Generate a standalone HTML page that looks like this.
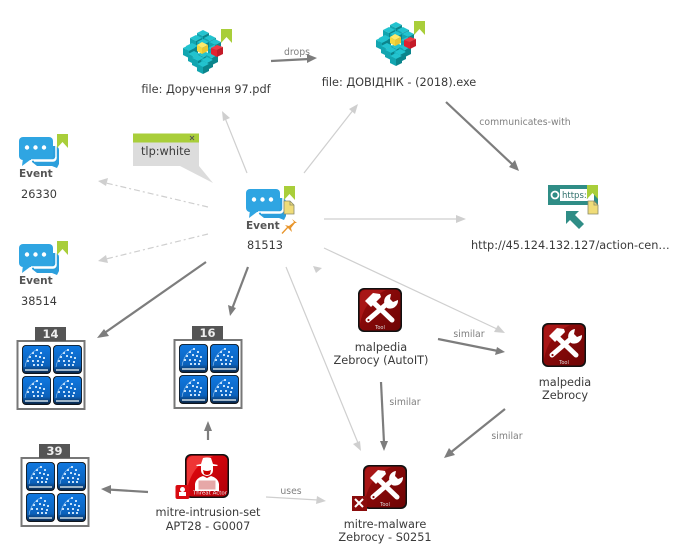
<!DOCTYPE html>
<html>
<head>
<meta charset="utf-8">
<style>
html,body{margin:0;padding:0;background:#fff;width:680px;height:550px;overflow:hidden}
svg{display:block}
text{font-family:"DejaVu Sans","Liberation Sans",sans-serif;font-size:11.300px;fill:#3a3a3a}
.c{text-anchor:middle}
.e{font-size:9.300px;fill:#808080;text-anchor:middle}
.ev{font-size:10.500px;font-weight:bold;fill:#555}
.d{stroke:#7d7d7d;stroke-width:2.200;fill:none}
.l{stroke:#cfcfcf;stroke-width:1.200;fill:none}
.ld{stroke:#cfcfcf;stroke-width:1.200;fill:none;stroke-dasharray:6 3 2 3}
</style>
</head>
<body>
<svg width="680" height="550" viewBox="0 0 680 550" xmlns="http://www.w3.org/2000/svg">
<defs>
<linearGradient id="red" x1="0" y1="0" x2="1" y2="1"><stop offset="0" stop-color="#e8080f"/><stop offset="1" stop-color="#b00008"/></linearGradient>
<linearGradient id="dred" x1="0" y1="0" x2="1" y2="1"><stop offset="0" stop-color="#9a0c0c"/><stop offset="1" stop-color="#6e0505"/></linearGradient>
<linearGradient id="blue" x1="0" y1="0" x2="0" y2="1"><stop offset="0" stop-color="#1078e0"/><stop offset=".72" stop-color="#0b62bc"/><stop offset="1" stop-color="#0a2444"/></linearGradient>

<g id="bm"><polygon points="0,0 11,0 11,14 5.500,8 0,14" fill="#a9ce3a"/></g>

<g id="cb"><polygon points="0,-3 6,0 0,3 -6,0" fill="#22c3cf"/><polygon points="-6,0 0,3 0,10 -6,7" fill="#12a5b0"/><polygon points="6,0 0,3 0,10 6,7" fill="#0b858c"/></g>
<g id="cubes">
<g transform="translate(0,-2)">
<use href="#cb" x="203" y="35"/><use href="#cb" x="196" y="40"/><use href="#cb" x="210" y="40"/>
<use href="#cb" x="215" y="44"/><use href="#cb" x="192" y="48"/><use href="#cb" x="203" y="44"/>
<use href="#cb" x="189" y="50"/><use href="#cb" x="214" y="50"/><use href="#cb" x="194" y="56"/>
<use href="#cb" x="204" y="56"/><use href="#cb" x="212" y="57"/><use href="#cb" x="198" y="60"/>
<use href="#cb" x="207" y="62"/><use href="#cb" x="203" y="66"/>
<polygon points="202,44 208,47 202,50 197,47" fill="#ffe96a"/><polygon points="197,47 202,50 202,56 197,53" fill="#f5d83e"/><polygon points="208,47 202,50 202,56 208,53" fill="#e8c733"/>
<polygon points="217,47 223,49 217,52 211,50" fill="#ef3a44"/><polygon points="211,50 217,52 217,59 211,56" fill="#e2222f"/><polygon points="223,49 217,52 217,59 223,56" fill="#c41a28"/>
</g>
<use href="#bm" x="221" y="29"/>
</g>

<g id="event">
<path d="M31 146h24a4 4 0 0 1 4 4v14l-2 4-5-2H37l-5-4z" fill="#2c9fdc"/>
<path d="M34 161h19a3 3 0 0 0 3-3v-12" fill="none" stroke="#fff" stroke-width="1.500"/>
<rect x="19" y="137" width="34" height="23" rx="4" fill="#2fa5e2"/>
<polygon points="23,158 30,160 22,166" fill="#2fa5e2"/>
<path d="M31 160h22a4 4 0 0 0 3-3" fill="none" stroke="#fff" stroke-width="1.400"/>
<circle cx="27" cy="147.500" r="2.200" fill="#fff"/><circle cx="35.500" cy="147.500" r="2.200" fill="#fff"/><circle cx="44" cy="147.500" r="2.200" fill="#fff"/>
<use href="#bm" x="57" y="134"/>
</g>

<g id="tool">
<rect x="0" y="0" width="44" height="44" rx="6" fill="#111"/>
<rect x="1.500" y="1.500" width="41" height="41" rx="5" fill="url(#dred)"/>
<path d="M2 36Q6 12 28 2H8a6 6 0 0 0-6 6z" fill="#a81616"/>
<g stroke="#fff" stroke-linecap="round" fill="none">
<path d="M14 13L34 32" stroke-width="5"/>
<path d="M31 14L10 32" stroke-width="5"/>
</g>
<path d="M7 13l8-8 7 1 1 3-10 10z" fill="#fff"/>
<path d="M27 17a7.500 7.500 0 0 1 6-11l-1 5 3 3 5-2a8 8 0 0 1-11 8z" fill="#fff"/>
<circle cx="10.500" cy="32" r="1.100" fill="#8a0c0c"/>
<text x="22" y="41" class="c" style="font-size:5px;fill:#ddd">Tool</text>
</g>

<g id="chip">
<rect x="0" y="0" width="29" height="29" rx="4" fill="#111"/>
<rect x=".8" y=".8" width="27.400" height="27.400" rx="3.500" fill="url(#blue)"/>
<g fill="#c6e2fb">
<rect x="14" y="4" width="2" height="2"/><rect x="10" y="7" width="2" height="2"/><rect x="18" y="7" width="2" height="2"/><rect x="7" y="11" width="2" height="2"/><rect x="13" y="10" width="2" height="2"/><rect x="17" y="11" width="2" height="2"/><rect x="21" y="12" width="2" height="2"/><rect x="5" y="15" width="2" height="2"/><rect x="10" y="15" width="2" height="2"/><rect x="15" y="15" width="2" height="2"/><rect x="20" y="16" width="2" height="2"/><rect x="11" y="19" width="2" height="2"/><rect x="15" y="19" width="2" height="2"/><rect x="19" y="19" width="2" height="2"/>
</g>
<path d="M3 22Q5 10 14 5" stroke="#9cc8f2" stroke-width=".6" fill="none"/>
<rect x="3" y="24" width="23" height="2" fill="#9db4c8"/>
</g>

<g id="cluster">
<rect x="1" y="1" width="67" height="68" fill="#fff" stroke="#777" stroke-width="2"/>
<use href="#chip" x="5.500" y="5"/><use href="#chip" x="36.500" y="5"/>
<use href="#chip" x="5.500" y="36"/><use href="#chip" x="36.500" y="36"/>
</g>

<g id="note"><path d="M0 0h6l4 4v9H0z" fill="#f0dc78" stroke="#8a8a6a" stroke-width=".8"/><path d="M6 0v4h4" fill="none" stroke="#8a8a6a" stroke-width=".8"/></g>
</defs>

<!-- connectors -->
<g>
<path class="l" d="M247 173L225 118"/><polygon points="222,111 230,118 223,121" fill="#cfcfcf"/>
<path class="l" d="M304 173L354 109"/><polygon points="358,104 355,114 349,109" fill="#cfcfcf"/>
<path class="l" d="M324 219L457 219"/><polygon points="466,219 456,223 456,215" fill="#cfcfcf"/>
<path class="l" d="M324 248L497 329"/><polygon points="505,333 494,332 498,325" fill="#cfcfcf"/>
<path class="l" d="M286 267L358 443"/><polygon points="361,451 353,444 360,441" fill="#cfcfcf"/>
<polygon points="313,266 322,268 316,273" fill="#cfcfcf"/>
<path class="ld" d="M208 207L106 183"/><polygon points="98,181 108,178 106,186" fill="#cfcfcf"/>
<path class="ld" d="M208 234L106 259"/><polygon points="98,261 106,255 108,263" fill="#cfcfcf"/>
<path class="l" d="M266 497L318 500"/><polygon points="326,501 316,504 317,496" fill="#cfcfcf"/>

<path class="d" d="M206 262L103 334"/><polygon points="97,338 104,329 109,336" fill="#7d7d7d"/>
<path class="d" d="M248 267L232 309"/><polygon points="230,316 228,305 236,308" fill="#7d7d7d"/>
<path class="d" d="M208 440L208 428"/><polygon points="208,421 212,431 204,431" fill="#7d7d7d"/>
<path class="d" d="M148 492L108 489.500"/><polygon points="101,489 111,485 111,494" fill="#7d7d7d"/>
<path class="d" d="M271 61L309 59"/><polygon points="317,58 307,63 307,54" fill="#7d7d7d"/>
<path class="d" d="M446 102L513 165"/><polygon points="519,171 509,167 515,160" fill="#7d7d7d"/>
<path class="d" d="M438 339L498 351"/><polygon points="505,352 495,355 497,347" fill="#7d7d7d"/>
<path class="d" d="M381 382L384 443"/><polygon points="384,451 380,441 388,441" fill="#7d7d7d"/>
<path class="d" d="M505 409L450 453"/><polygon points="444,458 449,448 455,455" fill="#7d7d7d"/>
</g>

<text class="e" x="297" y="55">drops</text>
<text class="e" x="525" y="125">communicates-with</text>
<text class="e" x="469" y="337">similar</text>
<text class="e" x="405" y="405">similar</text>
<text class="e" x="507" y="439">similar</text>
<text class="e" x="291" y="494">uses</text>

<!-- tlp tag -->
<polygon points="133,142 199,142 199,166 213,183 180,166 133,166" fill="#dcdcdc"/>
<rect x="133" y="133.500" width="66" height="9" fill="#a9ce3a"/>
<path d="M190 136l4 4m0-4l-4 4" stroke="#555" stroke-width=".9"/>
<text x="141" y="155">tlp:white</text>

<!-- files -->
<use href="#cubes"/>
<text class="c" x="206" y="93">file: Доручення 97.pdf</text>
<use href="#cubes" x="193" y="-8"/>
<text class="c" x="399" y="86">file: ДОВІДНІК - (2018).exe</text>

<!-- events -->
<use href="#event"/>
<text class="ev" x="19" y="177">Event</text>
<text class="c" x="39" y="198">26330</text>
<use href="#event" y="107"/>
<text class="ev" x="19" y="284">Event</text>
<text class="c" x="39" y="305">38514</text>
<use href="#event" x="227" y="52"/>
<text class="ev" x="246" y="229">Event</text>
<text class="c" x="265" y="249">81513</text>
<use href="#note" x="284" y="201"/>
<path d="M282 233.500L288 227" stroke="#e8952c" stroke-width="1.300"/>
<polygon points="285,225 289,226 294,222 292,219 297,223 295,223 291,228 292,232" fill="#e8952c"/>

<!-- url -->
<rect x="548" y="185" width="50" height="20" fill="#2f8d86"/>
<circle cx="555" cy="195" r="3.500" fill="none" stroke="#fff" stroke-width="1.800"/>
<rect x="560" y="189" width="34" height="12" fill="#fff"/>
<text x="562" y="198" style="font-size:8.500px;fill:#2f6f6a">https:/</text>
<use href="#bm" x="587" y="185"/>
<use href="#note" x="588" y="201"/>
<polygon points="566,211 579,211 575,215 584,224 579,229 570,220 566,224" fill="#2f8d86"/>
<text x="471" y="249">http://45.124.132.127/action-cen…</text>

<!-- clusters -->
<use href="#cluster" x="16.500" y="340"/>
<rect x="35" y="327" width="31" height="14" fill="#555"/>
<text class="c" x="50.500" y="338" style="font-weight:bold;fill:#eee;font-size:11.500px">14</text>
<use href="#cluster" x="173.500" y="339"/>
<rect x="192" y="326" width="31" height="14" fill="#555"/>
<text class="c" x="207.500" y="337" style="font-weight:bold;fill:#eee;font-size:11.500px">16</text>
<use href="#cluster" x="20.500" y="457"/>
<rect x="39" y="444" width="31" height="14" fill="#555"/>
<text class="c" x="54.500" y="455" style="font-weight:bold;fill:#eee;font-size:11.500px">39</text>

<!-- tools -->
<use href="#tool" x="358" y="288"/>
<text class="c" x="381" y="351">malpedia</text>
<text class="c" x="381" y="364">Zebrocy (AutoIT)</text>
<use href="#tool" x="542" y="323"/>
<text class="c" x="565" y="386">malpedia</text>
<text class="c" x="565" y="399">Zebrocy</text>
<use href="#tool" x="363" y="465"/>
<rect x="352" y="496" width="15" height="15" fill="#8a0c0c"/>
<path d="M355 499l8 8M363 499l-8 8" stroke="#fff" stroke-width="2"/>
<text class="c" x="385" y="528">mitre-malware</text>
<text class="c" x="385" y="541">Zebrocy - S0251</text>

<!-- threat actor -->
<rect x="185" y="454" width="44" height="44" rx="6" fill="#111"/>
<rect x="186.500" y="455.500" width="41" height="41" rx="5" fill="url(#red)"/>
<path d="M187 490Q191 466 213 456H193a6 6 0 0 0-6 6z" fill="#ee3535"/>
<!-- hat -->
<path d="M203 458q4-1 8 0l2 6 5 1-1 1h-20l-1-1 5-1z" fill="#fff"/>
<!-- face with mask -->
<path d="M201 466h12v4q0 5-6 6-6-1-6-6z" fill="#fff"/>
<path d="M203 470q4 2 8 0l-1 4q-3 2-6 0z" fill="#c00"/>
<!-- body -->
<path d="M195 491v-7q1-6 8-8l4 2 4-2q7 2 8 8v7z" fill="#fff"/>
<rect x="198" y="480" width="18" height="10" fill="#e6a8a8" stroke="#fff"/>
<text class="c" x="210" y="494.500" style="font-size:5.500px;fill:#eee">Threat Actor</text>
<rect x="175.500" y="485" width="14" height="14" rx="2" fill="#d80a10"/>
<circle cx="182.500" cy="489.500" r="2.500" fill="#fff"/><rect x="179" y="492" width="7" height="4" fill="#fff"/>
<text class="c" x="208" y="516">mitre-intrusion-set</text>
<text class="c" x="208" y="530">APT28 - G0007</text>
</svg>
</body>
</html>
